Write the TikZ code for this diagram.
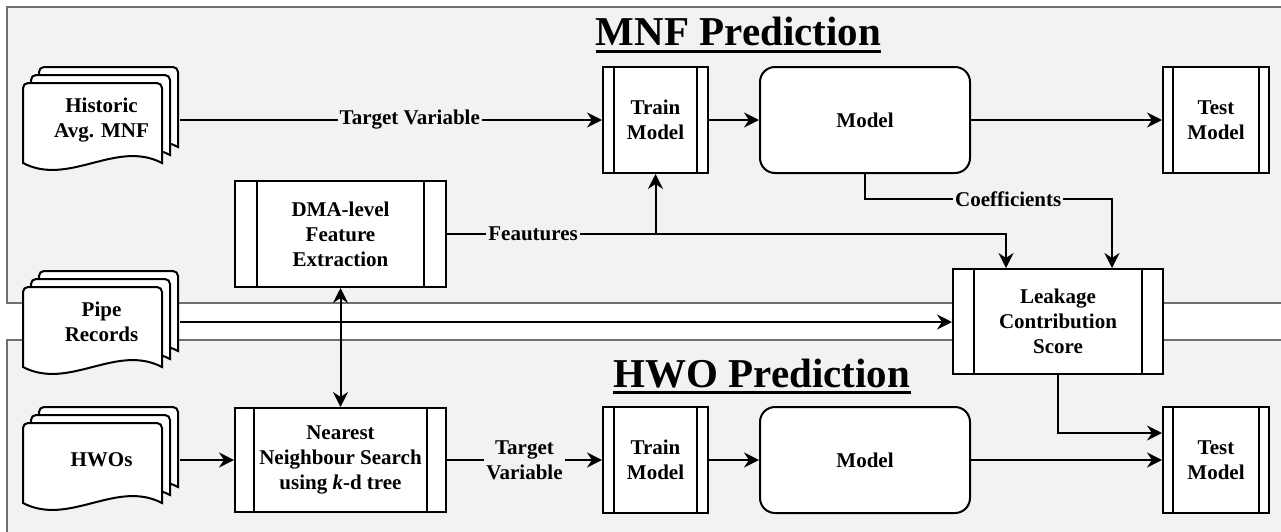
\documentclass[tikz,border=0pt]{standalone}
\usepackage{fontspec}
\setmainfont{Liberation Serif}
\usetikzlibrary{arrows.meta,positioning,calc}
\definecolor{LkPanel}{RGB}{242,242,242}
\definecolor{LkBorder}{RGB}{112,112,112}
\definecolor{LkInk}{RGB}{0,0,0}
\newcommand{\lkfont}{\bfseries\fontsize{10.5pt}{12.5pt}\selectfont}
\tikzset{
  lk/panel/.style={
    draw=LkBorder,
    line width=0.8pt,
    fill=LkPanel
  },
  lk/proc/.style={
    draw=LkInk,
    line width=1pt,
    fill=white,
    align=center,
    text=LkInk,
    minimum width=52.5pt,
    minimum height=53pt,
    inner sep=2pt,
    font=\lkfont,
    path picture={
      \draw[line width=1pt] ([xshift=#1]path picture bounding box.north west) -- ([xshift=#1]path picture bounding box.south west);
      \draw[line width=1pt] ([xshift=-#1]path picture bounding box.north east) -- ([xshift=-#1]path picture bounding box.south east);
    }
  },
  lk/proc/.default=5.5pt,
  lk/model/.style={
    draw=LkInk,
    line width=1pt,
    rounded corners=7.5pt,
    fill=white,
    align=center,
    minimum width=105pt,
    minimum height=53pt,
    font=\lkfont
  },
  lk/sheet/.style={draw=LkInk, line width=1pt, fill=white},
  lk/docnode/.style={align=center, minimum width=78.5pt, minimum height=40pt, inner sep=0pt, font=\lkfont},
  lk/arrow/.style={-{Stealth[length=7.5pt,width=7.5pt,inset=2.5pt]}, line width=1pt, draw=LkInk},
  lk/darrow/.style={{Stealth[length=7.5pt,width=7.5pt,inset=2.5pt]}-{Stealth[length=7.5pt,width=7.5pt,inset=2.5pt]}, line width=1pt, draw=LkInk},
  lk/line/.style={line width=1pt, draw=LkInk},
  lk/label/.style={font=\lkfont, fill=LkPanel, inner sep=1pt, align=center},
  lk/title/.style={font=\bfseries\fontsize{20.5pt}{24pt}\selectfont, inner sep=0pt},
  lk/uline/.style={line width=1.5pt, draw=LkInk}
}

\begin{document}
\begin{tikzpicture}[x=0.5pt,y=-0.5pt]
  \useasboundingbox (0,0) rectangle (1281,531);
  \clip (0,0) rectangle (1281,531);
  \fill[white] (0,0) rectangle (1281,531);
  % panels
  \draw[lk/panel] (7,7) rectangle (1300,303);
  \draw[lk/panel] (7,340) rectangle (1300,560);
  \node[lk/title, anchor=base] (mnft) at (738.5,45) {MNF Prediction};
  \draw[lk/uline] ([yshift=-3.25pt]mnft.base west) -- ([yshift=-3.25pt]mnft.base east);
  \node[lk/title, anchor=base] (hwot) at (762,387) {HWO Prediction};
  \draw[lk/uline] ([yshift=-2.75pt]hwot.base west) -- ([yshift=-2.75pt]hwot.base east);

  % stacked documents
  \foreach \px/\py in {23/83,23/287,23/423}{
    \foreach \o in {16,8,0}{
      \draw[lk/sheet] (\px+\o,\py-\o+80) [rounded corners=2.5pt] -- (\px+\o,\py-\o)
        -- (\px+\o+139,\py-\o) [sharp corners] -- (\px+\o+139,\py-\o+80)
        .. controls (\px+\o+93,\py-\o+56) and (\px+\o+46,\py-\o+104) .. (\px+\o,\py-\o+80) -- cycle;
    }
  }
  \node[lk/docnode] (hist) at (101.5,120) {Historic\\Avg. MNF};
  \node[lk/docnode] (pipes) at (101.5,322) {Pipe\\Records};
  \node[lk/docnode] (hwos) at (101.5,460) {HWOs};

  % MNF row
  \node[lk/proc] (trainA) at (655.5,120) {Train\\Model};
  \node[lk/model] (modelA) at (865,120) {Model};
  \node[lk/proc=5pt, minimum width=53pt] (testA) at (1216,120) {Test\\Model};
  \node[lk/proc=11pt, minimum width=105.5pt] (dma) at (340.5,234) {DMA-level\\Feature\\Extraction};
  \node[lk/proc=10.5pt, minimum width=105pt, minimum height=52.5pt] (leak) at (1058,321.5) {Leakage\\Contribution\\Score};

  % HWO row
  \node[lk/proc=9.5pt, minimum width=105.5pt, minimum height=52pt] (nns) at (340.5,460) {Nearest\\Neighbour Search\\using \textit{k}-d tree};
  \node[lk/proc] (trainB) at (655.5,460) {Train\\Model};
  \node[lk/model] (modelB) at (865,460) {Model};
  \node[lk/proc=5pt, minimum width=53pt] (testB) at (1216,460) {Test\\Model};

  % connectors
  \draw[lk/arrow] (hist.east) -- node[lk/label,pos=0.544]{Target Variable} (trainA.west);
  \draw[lk/arrow] (trainA.east) -- (modelA.west);
  \draw[lk/arrow] (modelA.east) -- (testA.west);
  \draw[lk/arrow] (dma.east) -- node[lk/label,pos=0.154]{Feautures} ([xshift=-26pt]leak.north |- dma.east) -- ([xshift=-26pt]leak.north);
  \draw[lk/arrow] (trainA.south |- dma.east) -- (trainA.south);
  \draw[lk/arrow] (modelA.south) |- node[lk/label,pos=0.79]{Coefficients} ([xshift=27pt]leak.north |- 0,199) -- ([xshift=27pt]leak.north);
  \draw[lk/arrow] (pipes.east) -- (pipes.east -| leak.west);
  \draw[lk/arrow] (leak.south) |- ([yshift=13.5pt]testB.west);
  \draw[lk/darrow] (dma.south) -- (nns.north);
  \draw[lk/arrow] (hwos.east) -- (nns.west);
  \draw[lk/arrow] (nns.east) -- node[lk/label]{Target\\Variable} (trainB.west);
  \draw[lk/arrow] (trainB.east) -- (modelB.west);
  \draw[lk/arrow] (modelB.east) -- (testB.west);
\end{tikzpicture}
\end{document}
